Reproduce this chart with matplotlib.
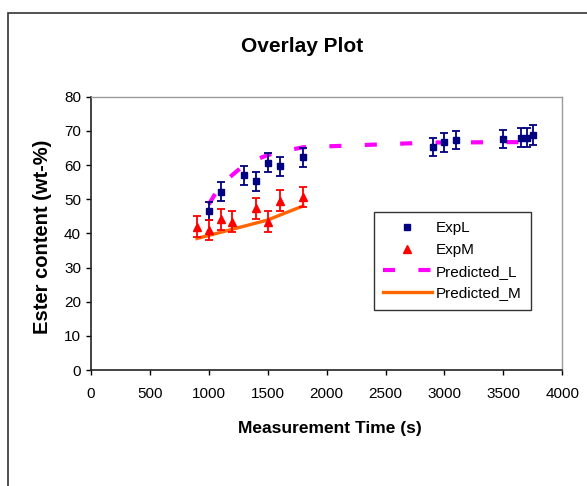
import matplotlib
matplotlib.use("Agg")
import matplotlib.pyplot as plt
from matplotlib.patches import Rectangle

plt.rcParams['font.family'] = ['Liberation Sans', 'DejaVu Sans']

# Data
expL_x = [1000, 1100, 1300, 1400, 1500, 1600, 1800, 2900, 3000, 3100, 3500, 3650, 3700, 3750]
expL_y = [46.6, 52.2, 57.0, 55.3, 60.7, 59.6, 62.3, 65.2, 66.6, 67.4, 67.6, 68.0, 68.0, 68.8]
expL_err = [2.6, 2.8, 2.8, 2.8, 2.8, 2.8, 2.8, 2.7, 2.7, 2.7, 2.7, 2.7, 2.7, 2.8]

expM_x = [900, 1000, 1100, 1200, 1400, 1500, 1600, 1800]
expM_y = [42.0, 41.0, 44.1, 43.4, 47.3, 43.4, 49.6, 50.7]
expM_err = [3.0, 3.0, 3.0, 3.0, 3.1, 3.0, 3.0, 3.0]

predL_x = [1000, 1100, 1300, 1400, 1500, 1600, 1800, 2900, 3000, 3100, 3500, 3650, 3700, 3750]
predL_y = [48.5, 54.2, 60.0, 61.6, 62.9, 63.8, 65.2, 66.6, 66.6, 66.6, 66.7, 66.7, 66.8, 66.8]

predM_x = [900, 1000, 1100, 1200, 1400, 1500, 1600, 1800]
predM_y = [38.5, 39.4, 40.3, 41.2, 43.0, 43.9, 45.3, 48.0]

x_ticks = [0, 500, 1000, 1500, 2000, 2500, 3000, 3500, 4000]
y_ticks = [0, 10, 20, 30, 40, 50, 60, 70, 80]

W, H = 587, 486
fig = plt.figure(figsize=(W / 100, H / 100), dpi=100)
fig.patch.set_facecolor('white')

# outer chart border (extends beyond right/bottom edges)
fig.patches.append(Rectangle((8 / W, -0.2), 1.5, (H - 13) / H + 0.2,
                             transform=fig.transFigure, fill=False,
                             edgecolor='#333333', linewidth=1.2))

ax = fig.add_axes([91 / W, 1 - 370 / H, (562.3 - 91) / W, (370 - 96.7) / H])

navy = '#000080'
red = '#FF0000'
magenta = '#FF00FF'
orange = '#FF6600'

ax.errorbar(expL_x, expL_y, yerr=expL_err, fmt='none', ecolor=navy,
            elinewidth=1.3, capsize=3.2, capthick=1.3, zorder=3)
ax.errorbar(expM_x, expM_y, yerr=expM_err, fmt='none', ecolor=red,
            elinewidth=1.3, capsize=3.2, capthick=1.3, zorder=3)

ax.plot(expL_x, expL_y, linestyle='none', marker='s', markersize=5,
        color=navy, label='ExpL', zorder=4)
ax.plot(expM_x, expM_y, linestyle='none', marker='^', markersize=5.5,
        color=red, label='ExpM', zorder=4)
lineL, = ax.plot(predL_x, predL_y, color=magenta, linewidth=3,
                 label='Predicted_L', zorder=2)
lineL.set_dashes([2.9, 5.6])
lineL.set_dash_capstyle('butt')
ax.plot(predM_x, predM_y, color=orange, linewidth=2.4,
        label='Predicted_M', zorder=2)

ax.set_xlim(0, 4000)
ax.set_ylim(0, 80)
ax.set_xticks(x_ticks)
ax.set_yticks(y_ticks)
ax.tick_params(axis='both', direction='out', length=3.6, width=1,
               labelsize=11, colors='black')
ax.tick_params(axis='y', pad=3.6)
ax.tick_params(axis='x', pad=8.5)

for s in ['left', 'bottom']:
    ax.spines[s].set_color('#222222')
    ax.spines[s].set_linewidth(1.2)
for s in ['top', 'right']:
    ax.spines[s].set_color('#9a9a9a')
    ax.spines[s].set_linewidth(1.0)

ax.set_xlabel('Measurement Time (s)', fontsize=12.5, fontweight='bold')
ax.xaxis.set_label_coords((330 - 91) / 471.3, (370 - 428) / 273.3)
ax.xaxis.label.set_va('center')
ax.set_ylabel('Ester content (wt-%)', fontsize=14.5, fontweight='bold')
ax.yaxis.set_label_coords((42 - 91) / 471.3, (370 - 236.5) / 273.3)
ax.yaxis.label.set_va('center')

fig.text(302 / W, 1 - 46 / H, 'Overlay Plot',
         ha='center', va='center', fontsize=15, fontweight='bold')

leg = ax.legend(loc='upper left', bbox_to_anchor=(0.600, 0.577),
                frameon=True, fancybox=False, fontsize=11,
                handlelength=3.2, labelspacing=0.5, borderpad=0.6,
                handletextpad=0.25, borderaxespad=0)
leg.get_frame().set_edgecolor('black')
leg.get_frame().set_linewidth(1.0)

fig.savefig('out.png', dpi=100)
